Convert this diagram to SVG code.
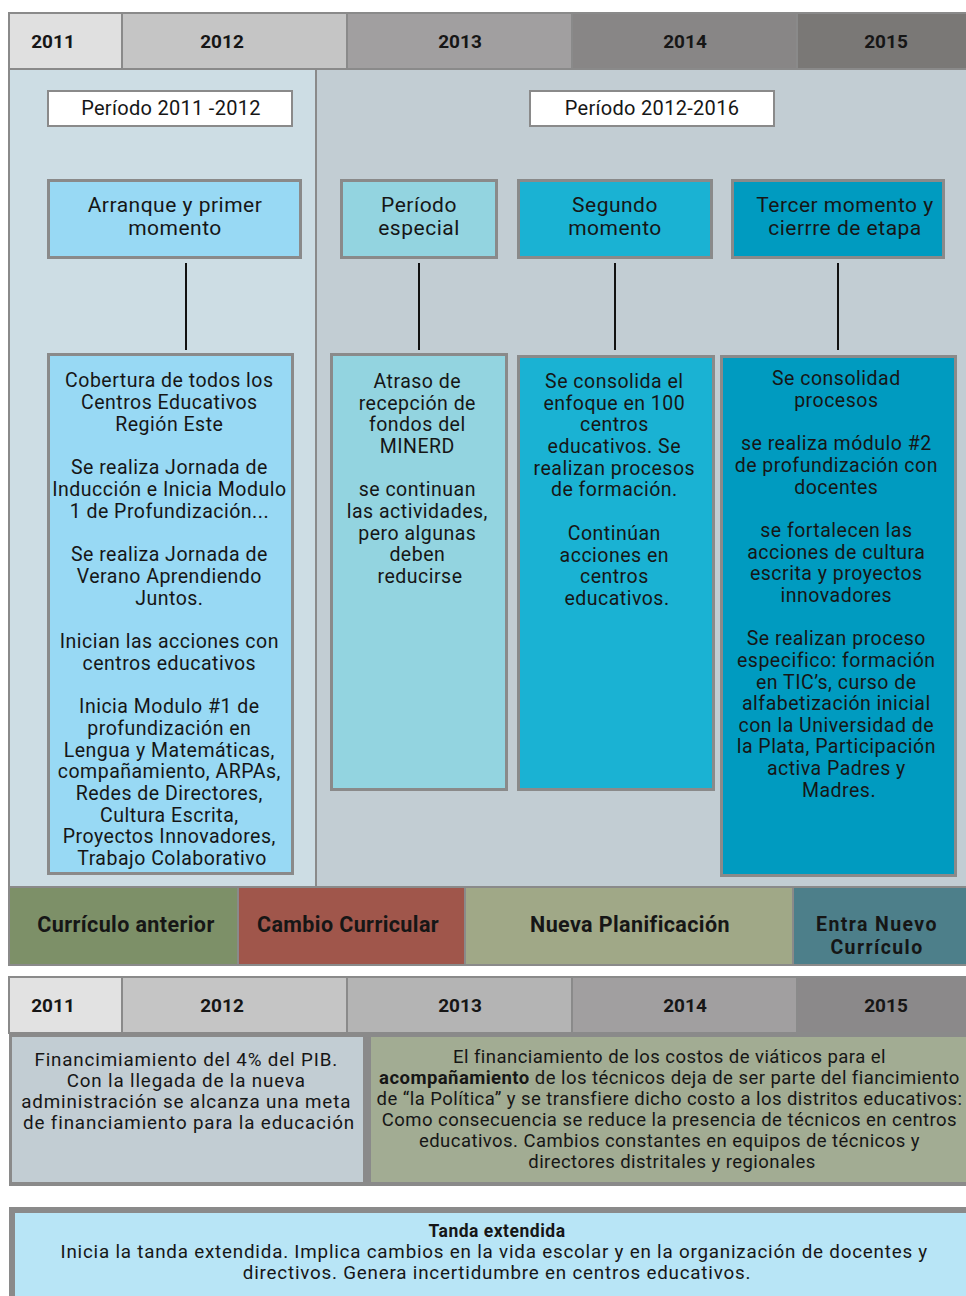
<svg xmlns="http://www.w3.org/2000/svg" width="966" height="1296" viewBox="0 0 966 1296">
  <style>
    text { font-family: Roboto, "Noto Sans", "DejaVu Sans", sans-serif; fill: #161616; text-anchor: middle; }
    .yr { font-size: 19px; font-weight: bold; }
    .cur { font-size: 21.5px; font-weight: bold; letter-spacing: 0.4px; }
    .cur2 { font-size: 19.5px; font-weight: bold; letter-spacing: 1.4px; }
    .hd { font-size: 21px; letter-spacing: 0.5px; }
    .per { font-size: 20px; letter-spacing: 0.3px; }
    .bd { font-size: 19.5px; letter-spacing: 0.5px; }
    .fin { font-size: 18.8px; letter-spacing: 0.85px; }
    .fin2 { font-size: 18.5px; letter-spacing: 0.45px; }
    .tnd { font-size: 18.8px; letter-spacing: 0.8px; }
    .cell { stroke: #8a8a8a; stroke-width: 2; }
    .box { stroke: #8a8a8a; stroke-width: 3; }
    .link { stroke: #111; stroke-width: 2; fill: none; }
  </style>

  <rect width="966" height="1296" fill="#ffffff"/>

  <!-- upper year ruler -->
  <g id="years-top">
    <rect class="cell" x="9" y="13" width="113" height="56" fill="#e0e0e0"/>
    <rect class="cell" x="122" y="13" width="225" height="56" fill="#c5c5c5"/>
    <rect class="cell" x="347" y="13" width="225" height="56" fill="#a19fa0"/>
    <rect class="cell" x="572" y="13" width="225" height="56" fill="#888686"/>
    <rect class="cell" x="797" y="13" width="175" height="56" fill="#7a7876"/>
    <text class="yr" x="53" y="48">2011</text>
    <text class="yr" x="222" y="48">2012</text>
    <text class="yr" x="460" y="48">2013</text>
    <text class="yr" x="685" y="48">2014</text>
    <text class="yr" x="886" y="48">2015</text>
  </g>

  <!-- period panels -->
  <g id="panel-2011-2012">
    <rect class="cell" x="9" y="69" width="307" height="818" fill="#cddde4"/>
    <rect class="cell" x="48" y="91" width="244" height="35" fill="#ffffff"/>
    <text class="per" x="171" y="115">Período 2011 -2012</text>
  </g>
  <g id="panel-2012-2016">
    <rect class="cell" x="316" y="69" width="656" height="818" fill="#c2cdd3"/>
    <rect class="cell" x="530" y="91" width="244" height="35" fill="#ffffff"/>
    <text class="per" x="652" y="115">Período 2012-2016</text>
  </g>

  <!-- connectors -->
  <g id="connectors">
    <line class="link" x1="186" y1="263" x2="186" y2="350"/>
    <line class="link" x1="419" y1="263" x2="419" y2="350"/>
    <line class="link" x1="615" y1="263" x2="615" y2="350"/>
    <line class="link" x1="838" y1="263" x2="838" y2="350"/>
  </g>

  <!-- stage headers -->
  <g id="stage-arranque">
    <rect class="box" x="48.5" y="180.5" width="252" height="77" fill="#98d9f4"/>
    <text class="hd" x="175" y="212">Arranque y primer</text>
    <text class="hd" x="175" y="235">momento</text>
  </g>
  <g id="stage-especial">
    <rect class="box" x="341.5" y="180.5" width="155" height="77" fill="#93d4e0"/>
    <text class="hd" x="419" y="212">Período</text>
    <text class="hd" x="419" y="235">especial</text>
  </g>
  <g id="stage-segundo">
    <rect class="box" x="518.5" y="180.5" width="193" height="77" fill="#1ab2d3"/>
    <text class="hd" x="615" y="212">Segundo</text>
    <text class="hd" x="615" y="235">momento</text>
  </g>
  <g id="stage-tercer">
    <rect class="box" x="732.5" y="180.5" width="211" height="77" fill="#009bc0"/>
    <text class="hd" x="845" y="212">Tercer momento y</text>
    <text class="hd" x="845" y="235">cierrre de etapa</text>
  </g>

  <!-- stage details -->
  <g id="detail-arranque">
    <rect class="box" x="48.5" y="354.5" width="244" height="519" fill="#98d9f4"/>
    <text class="bd" x="172">
      <tspan x="172" y="387">Cobertura de todos los</tspan>
      <tspan x="172" y="409">Centros Educativos</tspan>
      <tspan x="172" y="431">Región Este</tspan>
      <tspan x="172" y="474">Se realiza Jornada de</tspan>
      <tspan x="172" y="496">Inducción e Inicia Modulo</tspan>
      <tspan x="172" y="518">1 de Profundización...</tspan>
      <tspan x="172" y="561">Se realiza Jornada de</tspan>
      <tspan x="172" y="583">Verano Aprendiendo</tspan>
      <tspan x="172" y="605">Juntos.</tspan>
      <tspan x="172" y="648">Inician las acciones con</tspan>
      <tspan x="172" y="670">centros educativos</tspan>
      <tspan x="172" y="713">Inicia Modulo #1 de</tspan>
      <tspan x="172" y="735">profundización en</tspan>
      <tspan x="172" y="757">Lengua y Matemáticas,</tspan>
      <tspan x="172" y="778">compañamiento, ARPAs,</tspan>
      <tspan x="172" y="800">Redes de Directores,</tspan>
      <tspan x="172" y="822">Cultura Escrita,</tspan>
      <tspan x="172" y="843">Proyectos Innovadores,</tspan>
      <tspan x="172" y="865">Trabajo Colaborativo</tspan>
    </text>
  </g>
  <g id="detail-especial">
    <rect class="box" x="331.5" y="354.5" width="175" height="435" fill="#93d4e0"/>
    <text class="bd" x="420">
      <tspan x="420" y="388">Atraso de</tspan>
      <tspan x="420" y="410">recepción de</tspan>
      <tspan x="420" y="431">fondos del</tspan>
      <tspan x="420" y="453">MINERD</tspan>
      <tspan x="420" y="496">se continuan</tspan>
      <tspan x="420" y="518">las actividades,</tspan>
      <tspan x="420" y="540">pero algunas</tspan>
      <tspan x="420" y="561">deben</tspan>
      <tspan x="420" y="583">reducirse</tspan>
    </text>
  </g>
  <g id="detail-segundo">
    <rect class="box" x="518.5" y="356.5" width="195" height="433" fill="#1ab2d3"/>
    <text class="bd" x="617">
      <tspan x="617" y="388">Se consolida el</tspan>
      <tspan x="617" y="410">enfoque en 100</tspan>
      <tspan x="617" y="431">centros</tspan>
      <tspan x="617" y="453">educativos.  Se</tspan>
      <tspan x="617" y="475">realizan procesos</tspan>
      <tspan x="617" y="496">de formación.</tspan>
      <tspan x="617" y="540">Continúan</tspan>
      <tspan x="617" y="562">acciones en</tspan>
      <tspan x="617" y="583">centros</tspan>
      <tspan x="617" y="605">educativos.</tspan>
    </text>
  </g>
  <g id="detail-tercer">
    <rect class="box" x="721.5" y="356.5" width="234" height="519" fill="#009bc0"/>
    <text class="bd" x="839">
      <tspan x="839" y="385">Se consolidad</tspan>
      <tspan x="839" y="407">procesos</tspan>
      <tspan x="839" y="450">se realiza módulo #2</tspan>
      <tspan x="839" y="472">de profundización con</tspan>
      <tspan x="839" y="494">docentes</tspan>
      <tspan x="839" y="537">se fortalecen las</tspan>
      <tspan x="839" y="559">acciones de cultura</tspan>
      <tspan x="839" y="580">escrita y proyectos</tspan>
      <tspan x="839" y="602">innovadores</tspan>
      <tspan x="839" y="645">Se realizan proceso</tspan>
      <tspan x="839" y="667">especifico: formación</tspan>
      <tspan x="839" y="689">en TIC’s, curso de</tspan>
      <tspan x="839" y="710">alfabetización inicial</tspan>
      <tspan x="839" y="732">con la Universidad de</tspan>
      <tspan x="839" y="753">la Plata, Participación</tspan>
      <tspan x="839" y="775">activa Padres y</tspan>
      <tspan x="839" y="797">Madres.</tspan>
    </text>
  </g>

  <!-- curriculum band -->
  <g id="cur-anterior">
    <rect class="cell" x="9" y="887" width="229" height="78" fill="#7d9068"/>
    <text class="cur" x="126" y="932">Currículo anterior</text>
  </g>
  <g id="cur-cambio">
    <rect class="cell" x="238" y="887" width="227" height="78" fill="#a0564b"/>
    <text class="cur" x="348" y="932">Cambio Curricular</text>
  </g>
  <g id="cur-planificacion">
    <rect class="cell" x="465" y="887" width="328" height="78" fill="#a0a887"/>
    <text class="cur" x="630" y="932">Nueva Planificación</text>
  </g>
  <g id="cur-nuevo">
    <rect class="cell" x="793" y="887" width="179" height="78" fill="#4d7f8a"/>
    <text class="cur2" x="877" y="931">Entra Nuevo</text>
    <text class="cur2" x="877" y="954">Currículo</text>
  </g>

  <!-- lower year ruler -->
  <g id="years-bottom">
    <rect class="cell" x="9" y="977" width="113" height="56" fill="#e2e2e2"/>
    <rect class="cell" x="122" y="977" width="225" height="56" fill="#c5c5c5"/>
    <rect class="cell" x="347" y="977" width="225" height="56" fill="#b4b4b4"/>
    <rect class="cell" x="572" y="977" width="225" height="56" fill="#a19fa0"/>
    <rect class="cell" x="797" y="977" width="175" height="56" fill="#8b898a"/>
    <text class="yr" x="53" y="1012">2011</text>
    <text class="yr" x="222" y="1012">2012</text>
    <text class="yr" x="460" y="1012">2013</text>
    <text class="yr" x="685" y="1012">2014</text>
    <text class="yr" x="886" y="1012">2015</text>
  </g>

  <!-- funding -->
  <rect x="9" y="1033" width="963" height="153" fill="#8a8a8a"/>
  <g id="fund-pib">
    <rect x="12" y="1037" width="351" height="145" fill="#c2cdd3"/>
    <text class="fin" x="189">
      <tspan x="189" y="1066">Financimiamiento del 4% del PIB.</tspan>
      <tspan x="189" y="1087">Con la llegada de la nueva</tspan>
      <tspan x="189" y="1108">administración se alcanza una meta</tspan>
      <tspan x="189" y="1129">de financiamiento para la educación</tspan>
    </text>
  </g>
  <g id="fund-viaticos">
    <rect x="371" y="1037" width="601" height="145" fill="#a2ac93"/>
    <text class="fin2" x="672">
      <tspan x="672" y="1063">El financiamiento de los costos de viáticos para el</tspan>
      <tspan x="672" y="1084"><tspan font-weight="bold">acompañamiento</tspan> de los técnicos deja de ser parte del fiancimiento</tspan>
      <tspan x="672" y="1105">de “la Política” y se transfiere dicho costo a los distritos educativos:</tspan>
      <tspan x="672" y="1126">Como consecuencia se reduce la presencia de técnicos en centros</tspan>
      <tspan x="672" y="1147">educativos. Cambios constantes en equipos de técnicos y</tspan>
      <tspan x="672" y="1168">directores distritales y regionales</tspan>
    </text>
  </g>

  <!-- extended school day -->
  <g id="tanda-extendida">
    <rect x="9" y="1207" width="963" height="95" fill="#8a8a8a"/>
    <rect x="15" y="1213" width="957" height="89" fill="#b8e5f6"/>
    <text x="497" y="1237" font-size="17.5" font-weight="bold" letter-spacing="0.5">Tanda extendida</text>
    <text class="tnd" x="497">
      <tspan x="497" y="1258">Inicia la tanda extendida. Implica cambios en la vida escolar y en la organización de docentes y</tspan>
      <tspan x="497" y="1279">directivos. Genera incertidumbre en centros educativos.</tspan>
    </text>
  </g>
</svg>
